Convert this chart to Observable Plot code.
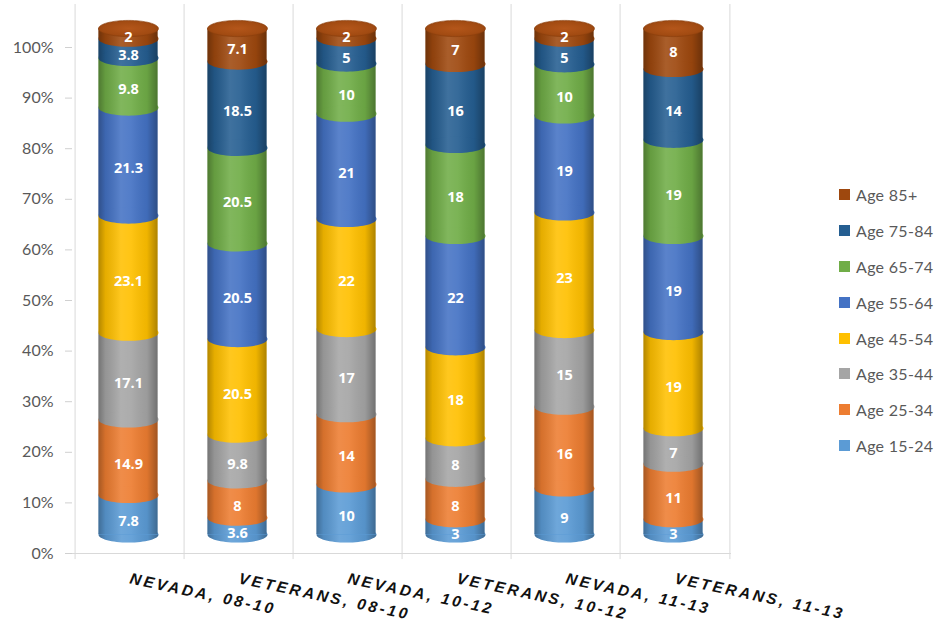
<!DOCTYPE html>
<html>
<head>
<meta charset="utf-8">
<script src="https://cdn.jsdelivr.net/npm/d3@7"></script>
<script src="https://cdn.jsdelivr.net/npm/@observablehq/plot@0.6"></script>
<style>
  html, body { margin: 0; padding: 0; background: #fff; }
  #wrap { position: relative; width: 943px; height: 626px; }
  #legend { position: absolute; left: 839px; top: 177px; font-family: Lato, "Open Sans", sans-serif; font-size: 16px; color: #595959; letter-spacing: 0.3px; }
  #legend .item { display: flex; align-items: center; height: 35.8px; }
  #legend .sw { width: 11px; height: 11px; margin-right: 6px; }
</style>
</head>
<body>
<div id="wrap"><div id="legend"></div></div>
<script>
// ---- data ----
const categories = ["NEVADA, 08-10", "VETERANS, 08-10", "NEVADA, 10-12", "VETERANS, 10-12", "NEVADA, 11-13", "VETERANS, 11-13"];
const ageGroups = ["Age 15-24", "Age 25-34", "Age 35-44", "Age 45-54", "Age 55-64", "Age 65-74", "Age 75-84", "Age 85+"];
const colors = ["#5B9BD5", "#ED7D31", "#A5A5A5", "#FFC000", "#4472C4", "#70AD47", "#255E91", "#9E480E"];
// values per category, bottom (15-24) to top (85+)
const nevada0810 = [7.8, 14.9, 17.1, 23.1, 21.3, 9.8, 3.8, 2];
const veterans0810 = [3.6, 8, 9.8, 20.5, 20.5, 20.5, 18.5, 7.1];
const nevada1012 = [10, 14, 17, 22, 21, 10, 5, 2];
const veterans1012 = [3, 8, 8, 18, 22, 18, 16, 7];
const nevada1113 = [9, 16, 15, 23, 19, 10, 5, 2];
const veterans1113 = [3, 11, 7, 19, 19, 19, 14, 8];
const seriesValues = [nevada0810, veterans0810, nevada1012, veterans1012, nevada1113, veterans1113];
const yTicks = [0, 0.1, 0.2, 0.3, 0.4, 0.5, 0.6, 0.7, 0.8, 0.9, 1];

// table for the library (ordered bottom -> top for drawing)
const table = [];
ageGroups.forEach((age, a) => {
  categories.forEach((cat, c) => {
    table.push({cat, age, value: seriesValues[c][a]});
  });
});

// ---- layout ----
const W = 943, H = 626, mL = 72, mR = 212, mT = 47, mB = 73;
const bw = (W - mL - mR) / categories.length;
const barW = 60;
const inset = (bw - barW) / 2;
const DX = -1.5;
const DY = -19;       // 3D floor offset
const RX = barW / 2;
const RYR = 0.27;     // ellipse ratio ry/rx
const RY = RX * RYR;
const K = 0.5523;
const topAge = ageGroups[ageGroups.length - 1];

const ellipseSym = {
  draw(ctx, size) {
    const rx = Math.sqrt(size / Math.PI), ry = rx * RYR;
    ctx.moveTo(rx, 0);
    ctx.bezierCurveTo(rx, ry * K, rx * K, ry, 0, ry);
    ctx.bezierCurveTo(-rx * K, ry, -rx, ry * K, -rx, 0);
    ctx.bezierCurveTo(-rx, -ry * K, -rx * K, -ry, 0, -ry);
    ctx.bezierCurveTo(rx * K, -ry, rx, -ry * K, rx, 0);
    ctx.closePath();
  }
};
const halfEllipseSym = {
  draw(ctx, size) {
    const rx = Math.sqrt(size / Math.PI), ry = rx * RYR;
    ctx.moveTo(rx, 0);
    ctx.bezierCurveTo(rx, ry * K, rx * K, ry, 0, ry);
    ctx.bezierCurveTo(-rx * K, ry, -rx, ry * K, -rx, 0);
    ctx.closePath();
  }
};

const stackOpts = {x: "cat", y: "value", z: "age", offset: "normalize"};
const colorOf = new Map(ageGroups.map((g, i) => [g, colors[i]]));
const labelStyle = {text: d => String(d.value), fill: "white", fontWeight: "bold",
  fontSize: 14.5, fontFamily: "'Open Sans', Lato, sans-serif", dx: DX};

const chart = Plot.plot({
  width: W, height: H,
  marginLeft: mL, marginRight: mR, marginTop: mT, marginBottom: mB,
  x: {domain: categories, padding: 0, axis: null},
  y: {domain: [0, 1], axis: null},
  color: {domain: ageGroups, range: colors},
  marks: [
    // vertical gridlines at category boundaries
    Plot.ruleX(categories, {x: d => d, y1: () => -0.012, y2: () => 1.085, dx: -bw / 2, stroke: "#d9d9d9", strokeWidth: 1}),
    Plot.ruleX([categories[categories.length - 1]], {x: d => d, y1: () => -0.012, y2: () => 1.085, dx: bw / 2, stroke: "#d9d9d9", strokeWidth: 1}),
    Plot.ruleY([0], {stroke: "#d9d9d9", strokeWidth: 1}),
    // y axis: ticks, then labels
    Plot.axisY({ticks: yTicks, tickSize: 7, tickFormat: () => "", color: "#d0d0d0", label: null}),
    Plot.axisY({ticks: yTicks, tickSize: 0, tickPadding: 19, tickFormat: d3.format(".0%"), color: "#595959", label: null,
      fontSize: 16, fontFamily: "Lato, 'Open Sans', sans-serif"}),
    // cylinder bodies
    Plot.barY(table, Plot.stackY({...stackOpts, fill: "age", insetLeft: inset, insetRight: inset, dx: DX, dy: DY})),
    // rounded segment bottoms (drawn bottom -> top)
    Plot.dot(table, Plot.stackY1({...stackOpts, fill: "age", symbol: ellipseSym, r: RX, stroke: null, dx: DX, dy: DY})),
    // cylinder shading overlay
    Plot.barY(categories, {x: d => d, y1: () => 0, y2: () => 1, fill: "url(#shade)", insetLeft: inset, insetRight: inset, dx: DX, dy: DY}),
    Plot.dot(categories, {x: d => d, y: () => 0, symbol: halfEllipseSym, r: RX, fill: "url(#shade)", stroke: null, dx: DX, dy: DY}),
    // top caps
    Plot.dot(categories, {x: d => d, y: () => 1, symbol: ellipseSym, r: RX, fill: "url(#cap)", stroke: "#8a3e0c", strokeWidth: 0.6, dx: DX, dy: DY}),
    // value labels (stacked on the full table, then split so the top series sits a little higher)
    Plot.text(table, Plot.filter(d => d.age !== topAge, Plot.stackY({...stackOpts, ...labelStyle, dy: DY + RY - 1}))),
    Plot.text(table, Plot.filter(d => d.age === topAge, Plot.stackY({...stackOpts, ...labelStyle, dy: DY + RY - 4}))),
    // x labels
    Plot.text(categories, {x: d => d, y: () => 0, text: d => d, textAnchor: "start", rotate: 12, dx: 0, dy: 25,
      fontSize: 15.5, fontWeight: "bold", fontStyle: "italic", fill: "#111",
      fontFamily: "'Liberation Sans', Arial, sans-serif"})
  ]
});

// gradients for the cylinder look
const defs = d3.select(chart).insert("defs", ":first-child");
const g = defs.append("linearGradient").attr("id", "shade").attr("x1", "0").attr("x2", "1").attr("y1", "0").attr("y2", "0");
[[0, "#000", 0.30], [0.12, "#000", 0.10], [0.38, "#fff", 0.12], [0.55, "#fff", 0.08], [0.82, "#000", 0.06], [1, "#000", 0.32]]
  .forEach(([o, c, a]) => g.append("stop").attr("offset", o).attr("stop-color", c).attr("stop-opacity", a));
const cap = defs.append("radialGradient").attr("id", "cap").attr("cx", "0.5").attr("cy", "0.5").attr("r", "0.6");
[[0, "#B4561A"], [0.7, "#A24B12"], [1, "#8F400D"]]
  .forEach(([o, c]) => cap.append("stop").attr("offset", o).attr("stop-color", c));

// letter-spaced category labels
d3.select(chart).selectAll("text")
  .filter(function() { return categories.includes(this.textContent); })
  .style("letter-spacing", "2.8px");

document.getElementById("wrap").prepend(chart);

// legend (top: 85+)
const legend = d3.select("#legend");
ageGroups.slice().reverse().forEach(g => {
  const it = legend.append("div").attr("class", "item");
  it.append("div").attr("class", "sw").style("background", colorOf.get(g));
  it.append("span").text(g);
});
</script>
</body>
</html>
